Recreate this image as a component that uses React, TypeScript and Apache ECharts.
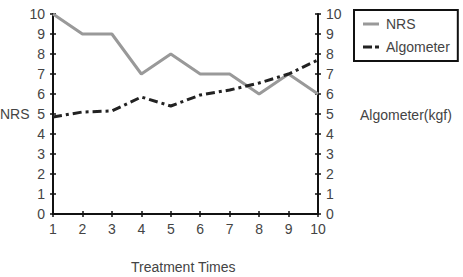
import React, { useEffect, useRef } from "react";
import * as echarts from "echarts";

const treatmentTimes = [1, 2, 3, 4, 5, 6, 7, 8, 9, 10];
const nrsValues = [10, 9, 9, 7, 8, 7, 7, 6, 7, 6];
const algometerValues = [4.85, 5.1, 5.15, 5.85, 5.4, 5.95, 6.2, 6.55, 7.0, 7.7];

const FONT = "Liberation Sans, Arial, sans-serif";
const TEXT = "#444";

// legend keys: a plain bar and a dash-dot bar
const SOLID_ICON = "path://M0,0h16v3h-16z";
const DASHDOT_ICON = "path://M0,0h9v3h-9z M12,0h4v3h-4z";

export default function App() {
  const ref = useRef<HTMLDivElement>(null);

  useEffect(() => {
    if (!ref.current) return;
    const chart = echarts.init(ref.current, null, { renderer: "svg" });

    const axisLine = { show: true, lineStyle: { color: "#111", width: 2 } };
    const tickOut = { show: true, inside: false, length: 3, lineStyle: { color: "#111", width: 1.5 } };
    const tickIn = { show: true, inside: true, length: 3, lineStyle: { color: "#111", width: 1.5 } };
    const label = { color: TEXT, fontSize: 14, fontFamily: FONT, margin: 8 };

    const yBase = { type: "value", min: 0, max: 10, interval: 1, splitLine: { show: false } };
    const xBase = { type: "value", min: 1, max: 10, interval: 1, splitLine: { show: false } };

    chart.setOption({
      animation: false,
      grid: { left: 53, right: 145, top: 14, bottom: 63 },
      xAxis: [
        { ...xBase, position: "bottom", axisLine, axisTick: tickOut, axisLabel: label },
        { ...xBase, position: "bottom", axisLine: { show: false }, axisTick: tickIn, axisLabel: { show: false } },
      ],
      yAxis: [
        { ...yBase, position: "left", axisLine, axisTick: tickOut, axisLabel: label },
        { ...yBase, position: "right", axisLine, axisTick: tickOut, axisLabel: label },
        { ...yBase, position: "left", axisLine: { show: false }, axisTick: tickIn, axisLabel: { show: false } },
        { ...yBase, position: "right", axisLine: { show: false }, axisTick: tickIn, axisLabel: { show: false } },
      ],
      legend: {
        orient: "vertical",
        left: 354,
        top: 10,
        width: 104,
        height: 51,
        padding: [7, 8, 7, 9],
        itemGap: 9,
        itemWidth: 16,
        itemHeight: 3,
        borderColor: "#111",
        borderWidth: 2,
        textStyle: { color: TEXT, fontSize: 14, fontFamily: FONT, padding: [0, 0, 0, 2] },
        data: [
          { name: "NRS", icon: SOLID_ICON, itemStyle: { color: "#999" } },
          { name: "Algometer", icon: DASHDOT_ICON, itemStyle: { color: "#222" } },
        ],
      },
      series: [
        {
          name: "NRS",
          type: "line",
          xAxisIndex: 0,
          yAxisIndex: 0,
          symbol: "none",
          data: treatmentTimes.map((t, i) => [t, nrsValues[i]]),
          lineStyle: { color: "#999", width: 3 },
          itemStyle: { color: "#999" },
        },
        {
          name: "Algometer",
          type: "line",
          xAxisIndex: 0,
          yAxisIndex: 1,
          symbol: "none",
          data: treatmentTimes.map((t, i) => [t, algometerValues[i]]),
          lineStyle: { color: "#222", width: 3, type: [9, 4, 3, 4] },
          itemStyle: { color: "#222" },
        },
      ],
      graphic: [
        { type: "text", left: 0, top: 107, style: { text: "NRS", fill: TEXT, font: `14px ${FONT}` } },
        { type: "text", left: 360, top: 108, style: { text: "Algometer(kgf)", fill: TEXT, font: `14px ${FONT}` } },
        { type: "text", left: 131, top: 260, style: { text: "Treatment Times", fill: TEXT, font: `14px ${FONT}` } },
      ],
    });

    return () => chart.dispose();
  }, []);

  return <div ref={ref} style={{ width: 463, height: 277, position: "absolute", left: 0, top: 0 }} />;
}
